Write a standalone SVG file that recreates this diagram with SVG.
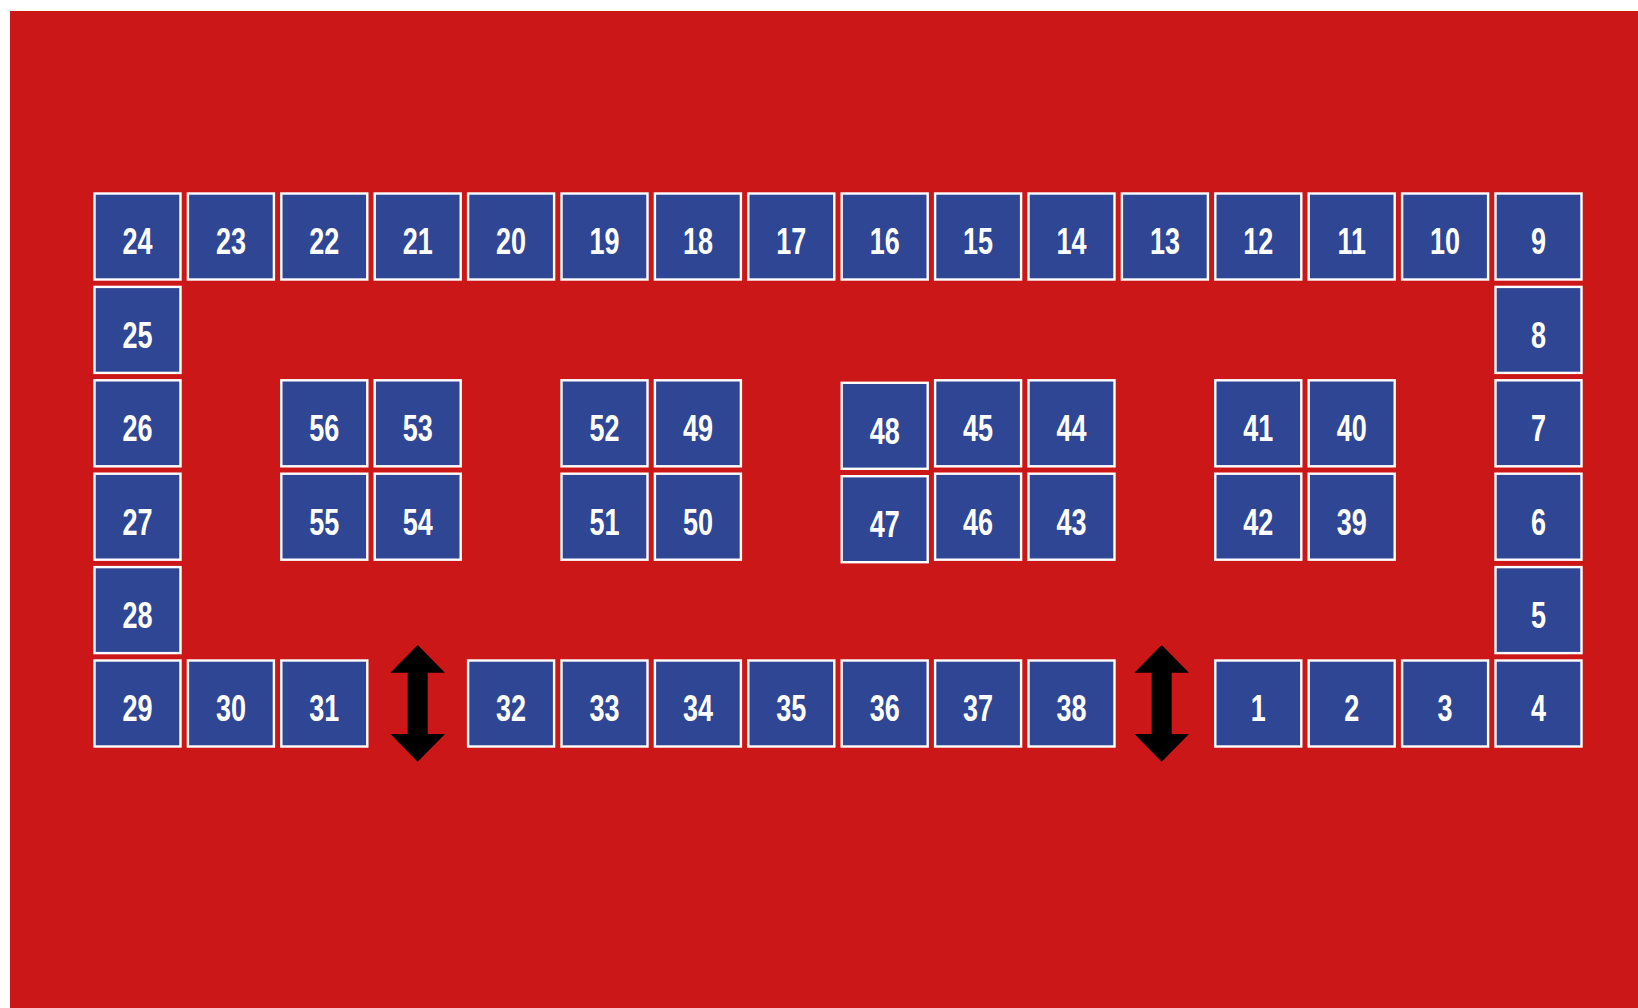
<svg xmlns="http://www.w3.org/2000/svg" width="1638" height="1008" viewBox="0 0 1638 1008">
<style>
.b rect{fill:#2f4694;stroke:#fff;stroke-width:2.4}
.b text{fill:#fff;font-family:"Liberation Sans",Arial,sans-serif;font-weight:bold;font-size:36px;text-anchor:middle}
.arr{fill:#000}
</style>
<rect x="10" y="11" width="1628" height="997" fill="#cc1719"/>
<g id="nodes">
<g id="n24" class="b" transform="translate(93.3,192.3)"><rect x="1.2" y="1.2" width="86" height="86"/><text transform="translate(44.2,62) scale(0.75,1)">24</text></g>
<g id="n23" class="b" transform="translate(186.7,192.3)"><rect x="1.2" y="1.2" width="86" height="86"/><text transform="translate(44.2,62) scale(0.75,1)">23</text></g>
<g id="n22" class="b" transform="translate(280.1,192.3)"><rect x="1.2" y="1.2" width="86" height="86"/><text transform="translate(44.2,62) scale(0.75,1)">22</text></g>
<g id="n21" class="b" transform="translate(373.5,192.3)"><rect x="1.2" y="1.2" width="86" height="86"/><text transform="translate(44.2,62) scale(0.75,1)">21</text></g>
<g id="n20" class="b" transform="translate(466.9,192.3)"><rect x="1.2" y="1.2" width="86" height="86"/><text transform="translate(44.2,62) scale(0.75,1)">20</text></g>
<g id="n19" class="b" transform="translate(560.3,192.3)"><rect x="1.2" y="1.2" width="86" height="86"/><text transform="translate(44.2,62) scale(0.75,1)">19</text></g>
<g id="n18" class="b" transform="translate(653.7,192.3)"><rect x="1.2" y="1.2" width="86" height="86"/><text transform="translate(44.2,62) scale(0.75,1)">18</text></g>
<g id="n17" class="b" transform="translate(747.1,192.3)"><rect x="1.2" y="1.2" width="86" height="86"/><text transform="translate(44.2,62) scale(0.75,1)">17</text></g>
<g id="n16" class="b" transform="translate(840.5,192.3)"><rect x="1.2" y="1.2" width="86" height="86"/><text transform="translate(44.2,62) scale(0.75,1)">16</text></g>
<g id="n15" class="b" transform="translate(933.9,192.3)"><rect x="1.2" y="1.2" width="86" height="86"/><text transform="translate(44.2,62) scale(0.75,1)">15</text></g>
<g id="n14" class="b" transform="translate(1027.3,192.3)"><rect x="1.2" y="1.2" width="86" height="86"/><text transform="translate(44.2,62) scale(0.75,1)">14</text></g>
<g id="n13" class="b" transform="translate(1120.7,192.3)"><rect x="1.2" y="1.2" width="86" height="86"/><text transform="translate(44.2,62) scale(0.75,1)">13</text></g>
<g id="n12" class="b" transform="translate(1214.1,192.3)"><rect x="1.2" y="1.2" width="86" height="86"/><text transform="translate(44.2,62) scale(0.75,1)">12</text></g>
<g id="n11" class="b" transform="translate(1307.5,192.3)"><rect x="1.2" y="1.2" width="86" height="86"/><text transform="translate(44.2,62) scale(0.75,1)">11</text></g>
<g id="n10" class="b" transform="translate(1400.9,192.3)"><rect x="1.2" y="1.2" width="86" height="86"/><text transform="translate(44.2,62) scale(0.75,1)">10</text></g>
<g id="n9" class="b" transform="translate(1494.3,192.3)"><rect x="1.2" y="1.2" width="86" height="86"/><text transform="translate(44.2,62) scale(0.75,1)">9</text></g>
<g id="n25" class="b" transform="translate(93.3,285.7)"><rect x="1.2" y="1.2" width="86" height="86"/><text transform="translate(44.2,62) scale(0.75,1)">25</text></g>
<g id="n26" class="b" transform="translate(93.3,379.1)"><rect x="1.2" y="1.2" width="86" height="86"/><text transform="translate(44.2,62) scale(0.75,1)">26</text></g>
<g id="n27" class="b" transform="translate(93.3,472.5)"><rect x="1.2" y="1.2" width="86" height="86"/><text transform="translate(44.2,62) scale(0.75,1)">27</text></g>
<g id="n28" class="b" transform="translate(93.3,565.9)"><rect x="1.2" y="1.2" width="86" height="86"/><text transform="translate(44.2,62) scale(0.75,1)">28</text></g>
<g id="n29" class="b" transform="translate(93.3,659.3)"><rect x="1.2" y="1.2" width="86" height="86"/><text transform="translate(44.2,62) scale(0.75,1)">29</text></g>
<g id="n8" class="b" transform="translate(1494.3,285.7)"><rect x="1.2" y="1.2" width="86" height="86"/><text transform="translate(44.2,62) scale(0.75,1)">8</text></g>
<g id="n7" class="b" transform="translate(1494.3,379.1)"><rect x="1.2" y="1.2" width="86" height="86"/><text transform="translate(44.2,62) scale(0.75,1)">7</text></g>
<g id="n6" class="b" transform="translate(1494.3,472.5)"><rect x="1.2" y="1.2" width="86" height="86"/><text transform="translate(44.2,62) scale(0.75,1)">6</text></g>
<g id="n5" class="b" transform="translate(1494.3,565.9)"><rect x="1.2" y="1.2" width="86" height="86"/><text transform="translate(44.2,62) scale(0.75,1)">5</text></g>
<g id="n4" class="b" transform="translate(1494.3,659.3)"><rect x="1.2" y="1.2" width="86" height="86"/><text transform="translate(44.2,62) scale(0.75,1)">4</text></g>
<g id="n30" class="b" transform="translate(186.7,659.3)"><rect x="1.2" y="1.2" width="86" height="86"/><text transform="translate(44.2,62) scale(0.75,1)">30</text></g>
<g id="n31" class="b" transform="translate(280.1,659.3)"><rect x="1.2" y="1.2" width="86" height="86"/><text transform="translate(44.2,62) scale(0.75,1)">31</text></g>
<g id="n32" class="b" transform="translate(466.9,659.3)"><rect x="1.2" y="1.2" width="86" height="86"/><text transform="translate(44.2,62) scale(0.75,1)">32</text></g>
<g id="n33" class="b" transform="translate(560.3,659.3)"><rect x="1.2" y="1.2" width="86" height="86"/><text transform="translate(44.2,62) scale(0.75,1)">33</text></g>
<g id="n34" class="b" transform="translate(653.7,659.3)"><rect x="1.2" y="1.2" width="86" height="86"/><text transform="translate(44.2,62) scale(0.75,1)">34</text></g>
<g id="n35" class="b" transform="translate(747.1,659.3)"><rect x="1.2" y="1.2" width="86" height="86"/><text transform="translate(44.2,62) scale(0.75,1)">35</text></g>
<g id="n36" class="b" transform="translate(840.5,659.3)"><rect x="1.2" y="1.2" width="86" height="86"/><text transform="translate(44.2,62) scale(0.75,1)">36</text></g>
<g id="n37" class="b" transform="translate(933.9,659.3)"><rect x="1.2" y="1.2" width="86" height="86"/><text transform="translate(44.2,62) scale(0.75,1)">37</text></g>
<g id="n38" class="b" transform="translate(1027.3,659.3)"><rect x="1.2" y="1.2" width="86" height="86"/><text transform="translate(44.2,62) scale(0.75,1)">38</text></g>
<g id="n1" class="b" transform="translate(1214.1,659.3)"><rect x="1.2" y="1.2" width="86" height="86"/><text transform="translate(44.2,62) scale(0.75,1)">1</text></g>
<g id="n2" class="b" transform="translate(1307.5,659.3)"><rect x="1.2" y="1.2" width="86" height="86"/><text transform="translate(44.2,62) scale(0.75,1)">2</text></g>
<g id="n3" class="b" transform="translate(1400.9,659.3)"><rect x="1.2" y="1.2" width="86" height="86"/><text transform="translate(44.2,62) scale(0.75,1)">3</text></g>
<g id="n56" class="b" transform="translate(280.1,379.1)"><rect x="1.2" y="1.2" width="86" height="86"/><text transform="translate(44.2,62) scale(0.75,1)">56</text></g>
<g id="n53" class="b" transform="translate(373.5,379.1)"><rect x="1.2" y="1.2" width="86" height="86"/><text transform="translate(44.2,62) scale(0.75,1)">53</text></g>
<g id="n52" class="b" transform="translate(560.3,379.1)"><rect x="1.2" y="1.2" width="86" height="86"/><text transform="translate(44.2,62) scale(0.75,1)">52</text></g>
<g id="n49" class="b" transform="translate(653.7,379.1)"><rect x="1.2" y="1.2" width="86" height="86"/><text transform="translate(44.2,62) scale(0.75,1)">49</text></g>
<g id="n48" class="b" transform="translate(840.5,381.6)"><rect x="1.2" y="1.2" width="86" height="86"/><text transform="translate(44.2,62) scale(0.75,1)">48</text></g>
<g id="n45" class="b" transform="translate(933.9,379.1)"><rect x="1.2" y="1.2" width="86" height="86"/><text transform="translate(44.2,62) scale(0.75,1)">45</text></g>
<g id="n44" class="b" transform="translate(1027.3,379.1)"><rect x="1.2" y="1.2" width="86" height="86"/><text transform="translate(44.2,62) scale(0.75,1)">44</text></g>
<g id="n41" class="b" transform="translate(1214.1,379.1)"><rect x="1.2" y="1.2" width="86" height="86"/><text transform="translate(44.2,62) scale(0.75,1)">41</text></g>
<g id="n40" class="b" transform="translate(1307.5,379.1)"><rect x="1.2" y="1.2" width="86" height="86"/><text transform="translate(44.2,62) scale(0.75,1)">40</text></g>
<g id="n55" class="b" transform="translate(280.1,472.5)"><rect x="1.2" y="1.2" width="86" height="86"/><text transform="translate(44.2,62) scale(0.75,1)">55</text></g>
<g id="n54" class="b" transform="translate(373.5,472.5)"><rect x="1.2" y="1.2" width="86" height="86"/><text transform="translate(44.2,62) scale(0.75,1)">54</text></g>
<g id="n51" class="b" transform="translate(560.3,472.5)"><rect x="1.2" y="1.2" width="86" height="86"/><text transform="translate(44.2,62) scale(0.75,1)">51</text></g>
<g id="n50" class="b" transform="translate(653.7,472.5)"><rect x="1.2" y="1.2" width="86" height="86"/><text transform="translate(44.2,62) scale(0.75,1)">50</text></g>
<g id="n47" class="b" transform="translate(840.5,475)"><rect x="1.2" y="1.2" width="86" height="86"/><text transform="translate(44.2,62) scale(0.75,1)">47</text></g>
<g id="n46" class="b" transform="translate(933.9,472.5)"><rect x="1.2" y="1.2" width="86" height="86"/><text transform="translate(44.2,62) scale(0.75,1)">46</text></g>
<g id="n43" class="b" transform="translate(1027.3,472.5)"><rect x="1.2" y="1.2" width="86" height="86"/><text transform="translate(44.2,62) scale(0.75,1)">43</text></g>
<g id="n42" class="b" transform="translate(1214.1,472.5)"><rect x="1.2" y="1.2" width="86" height="86"/><text transform="translate(44.2,62) scale(0.75,1)">42</text></g>
<g id="n39" class="b" transform="translate(1307.5,472.5)"><rect x="1.2" y="1.2" width="86" height="86"/><text transform="translate(44.2,62) scale(0.75,1)">39</text></g>
</g>
<g id="connectors">
<path class="arr" d="M417.7,645 L445,672.7 L427.7,672.7 L427.7,734 L445,734 L417.7,761.7 L390.4,734 L407.7,734 L407.7,672.7 L390.4,672.7 Z"/>
<path class="arr" d="M1161.7,645 L1189,672.7 L1171.7,672.7 L1171.7,734 L1189,734 L1161.7,761.7 L1134.4,734 L1151.7,734 L1151.7,672.7 L1134.4,672.7 Z"/>
</g>
</svg>
